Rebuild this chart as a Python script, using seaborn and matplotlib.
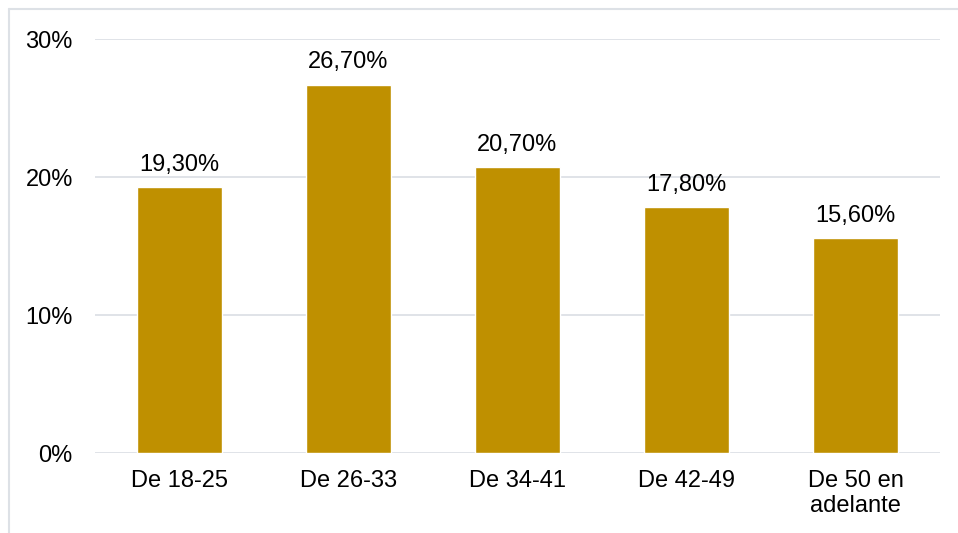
import matplotlib
matplotlib.use("Agg")
import matplotlib.pyplot as plt
from matplotlib.lines import Line2D
import seaborn as sns
import pandas as pd

categories = ["De 18-25", "De 26-33", "De 34-41", "De 42-49", "De 50 en\nadelante"]
values = [19.3, 26.7, 20.7, 17.8, 15.6]
yticks = [0, 10, 20, 30]

sns.set_theme(style="white")
plt.rcParams["font.family"] = ["Liberation Sans", "DejaVu Sans"]

bar_color = "#BF9000"
grid_color = "#DDE1E6"
fs = 17

df = pd.DataFrame({"grupo": categories, "pct": values})

fig = plt.figure(figsize=(9.58, 5.33), dpi=100)
ax = fig.add_axes([95 / 958, 1 - 453 / 533, 845 / 958, 414 / 533])

sns.barplot(data=df, x="grupo", y="pct", color=bar_color, saturation=1,
            width=0.5, ax=ax, zorder=3)

ax.set_xlim(-0.5, len(categories) - 0.5)
ax.set_ylim(0, 30)
ax.set_yticks(yticks)
ax.set_yticklabels([f"{t}%" for t in yticks])
ax.set_xlabel("")
ax.set_ylabel("")

for t in yticks:
    ax.axhline(t, color=grid_color, lw=1.3, zorder=1)

for sp in ax.spines.values():
    sp.set_visible(False)

ax.tick_params(axis="y", length=0, pad=16, labelsize=fs, labelcolor="#000000")
ax.tick_params(axis="x", length=0, pad=12, labelsize=fs, labelcolor="#000000")
for lbl in ax.get_xticklabels():
    lbl.set_linespacing(1.2)

for i, v in enumerate(values):
    ax.annotate(f"{v:.2f}".replace(".", ",") + "%", xy=(i, v),
                xytext=(0, 8), textcoords="offset points",
                ha="center", va="bottom", fontsize=fs, color="#000000")

# outer frame of the chart area
fig.add_artist(Line2D([9 / 958, 9 / 958], [0, 1 - 9 / 533],
                      transform=fig.transFigure, color=grid_color, lw=1.5))
fig.add_artist(Line2D([9 / 958, 1], [1 - 9 / 533, 1 - 9 / 533],
                      transform=fig.transFigure, color=grid_color, lw=1.5))

fig.savefig("out.png", dpi=100, facecolor="white")
